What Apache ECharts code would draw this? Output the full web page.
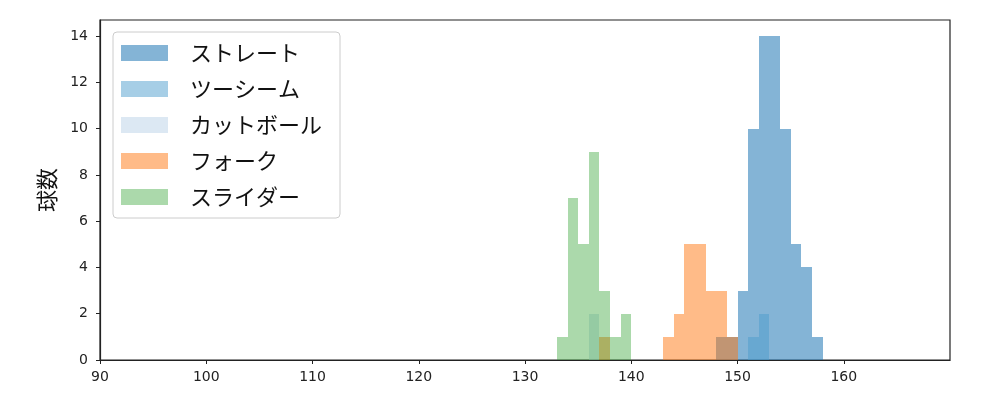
<!DOCTYPE html>
<html>
<head>
<meta charset="utf-8">
<script src="https://cdn.jsdelivr.net/npm/echarts@6/dist/echarts.min.js"></script>
<style>
  html, body { margin: 0; padding: 0; background: #fff; }
  #chart { width: 1000px; height: 400px; }
</style>
</head>
<body>
<div id="chart"></div>
<script>
// bin starts (km/h, width 1) and counts per pitch type
const straightBins = [148, 149, 150, 151, 152, 153, 154, 155, 156, 157]
const straightCounts = [1, 1, 3, 10, 14, 14, 10, 5, 4, 1]
const twoSeamBins = [151, 152]
const twoSeamCounts = [1, 2]
const cutBins = [136]
const cutCounts = [2]
const forkBins = [137, 143, 144, 145, 146, 147, 148, 149]
const forkCounts = [1, 1, 2, 5, 5, 3, 3, 1]
const sliderBins = [133, 134, 135, 136, 137, 138, 139]
const sliderCounts = [1, 7, 5, 9, 3, 1, 2]

const binWidth = 1
const font = "'DejaVu Sans', sans-serif"
const jpFont = "'Noto Sans CJK JP', sans-serif"

const chart = echarts.init(document.getElementById('chart'))

function histSeries(name, bins, counts, color) {
	return {
		name: name,
		type: 'custom',
		itemStyle: { color: color },
		encode: { x: [0, 1], y: 2 },
		data: bins.map((b, i) => [b, b + binWidth, counts[i]]),
		renderItem: function(params, api) {
			const p0 = api.coord([api.value(0), api.value(2)])
			const p1 = api.coord([api.value(1), 0])
			// snap to whole pixels so neighbouring bins meet without seams
			const x0 = Math.round(p0[0])
			const x1 = Math.round(p1[0])
			const y0 = Math.round(p0[1])
			const y1 = Math.round(p1[1])
			return {
				type: 'rect',
				shape: { x: x0, y: y0, width: x1 - x0, height: y1 - y0 },
				style: { fill: color }
			}
		}
	}
}

var option = {
	animation: false,
	grid: {
		left: 100,
		right: 50,
		top: 20,
		bottom: 40,
		show: true,
		borderColor: '#222',
		borderWidth: 1.2
	},
	legend: {
		orient: 'vertical',
		left: 113,
		top: 32,
		padding: [10, 18, 10, 8],
		borderColor: '#ccc',
		borderWidth: 1,
		borderRadius: 4,
		backgroundColor: 'rgba(255,255,255,0.8)',
		itemWidth: 47,
		itemHeight: 16,
		itemGap: 14,
		icon: 'rect',
		textStyle: {
			fontFamily: jpFont,
			fontSize: 22,
			lineHeight: 22,
			color: '#111',
			padding: [0, 0, 0, 17]
		},
		data: ['ストレート', 'ツーシーム', 'カットボール', 'フォーク', 'スライダー']
	},
	xAxis: {
		type: 'value',
		min: 90,
		max: 170,
		interval: 10,
		splitLine: { show: false },
		axisLine: { lineStyle: { color: '#222', width: 1.2 } },
		axisTick: { show: true, length: 4, lineStyle: { color: '#222' } },
		axisLabel: { showMaxLabel: false, color: '#222', fontSize: 14, fontFamily: font, margin: 10 }
	},
	yAxis: {
		type: 'value',
		min: 0,
		max: 14.7,
		interval: 2,
		name: '球数',
		nameLocation: 'middle',
		nameGap: 42,
		nameTextStyle: { fontFamily: jpFont, fontSize: 22, color: '#111' },
		splitLine: { show: false },
		axisLine: { show: true, lineStyle: { color: '#222', width: 1.2 } },
		axisTick: { show: true, length: 4, lineStyle: { color: '#222' } },
		axisLabel: { showMaxLabel: false, color: '#222', fontSize: 14, fontFamily: font, margin: 12 }
	},
	series: [
		histSeries('ストレート', straightBins, straightCounts, 'rgba(31,119,180,0.55)'),
		histSeries('ツーシーム', twoSeamBins, twoSeamCounts, 'rgba(77,157,205,0.5)'),
		histSeries('カットボール', cutBins, cutCounts, 'rgba(185,209,231,0.5)'),
		histSeries('フォーク', forkBins, forkCounts, 'rgba(255,120,17,0.5)'),
		histSeries('スライダー', sliderBins, sliderCounts, 'rgba(44,160,44,0.4)')
	]
}
chart.setOption(option)
</script>
</body>
</html>
